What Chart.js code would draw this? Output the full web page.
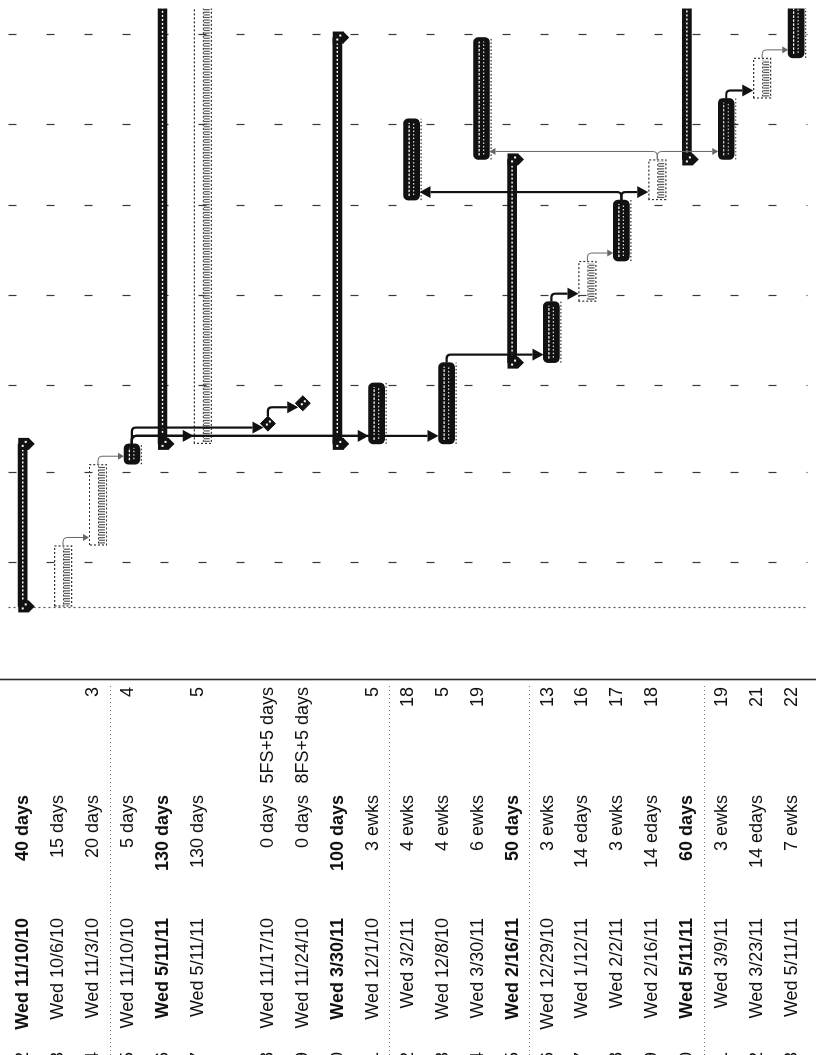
<!DOCTYPE html>
<html>
<head>
<meta charset="utf-8">
<script src="https://cdn.jsdelivr.net/npm/chart.js@4.4.1/dist/chart.umd.min.js"></script>
<style>
  html, body { margin: 0; padding: 0; background: #fff; width: 816px; height: 1055px; overflow: hidden; }
  /* The sheet is laid out in landscape and turned a quarter turn onto the portrait page */
  #sheet { position: absolute; left: 0; top: 0; width: 1055px; height: 816px;
           transform-origin: 0 0; transform: translate(0, 1055px) rotate(-90deg); background: #fff; }
  canvas { display: block; }
</style>
</head>
<body>
<div id="sheet"><canvas id="gantt" width="1055" height="816"></canvas></div>
<script>
// ---- Task table, one entry per row (row 6 is an empty spacer row) ----
const taskIds = [2, 3, 4, 5, 6, 7, null, 8, 9, 10, 11, 12, 13, 14, 15, 16, 17, 18, 19, 20, 21, 22, 23];
const taskKinds = ['summary', 'outline', 'outline', 'task', 'summary', 'outline', 'blank',
  'milestone', 'milestone', 'summary', 'task', 'task', 'task', 'task', 'summary',
  'task', 'outline', 'task', 'outline', 'summary', 'task', 'outline', 'task'];
const startDates = ['9/16/10', '9/16/10', '10/7/10', '11/4/10', '11/11/10', '11/11/10', '',
  '11/17/10', '11/24/10', '11/11/10', '11/11/10', '2/3/11', '11/11/10', '2/17/11', '12/9/10',
  '12/9/10', '12/30/10', '1/13/11', '2/3/11', '2/17/11', '2/17/11', '3/10/11', '3/24/11'];
const finishLabels = ['Wed 11/10/10', 'Wed 10/6/10', 'Wed 11/3/10', 'Wed 11/10/10', 'Wed 5/11/11',
  'Wed 5/11/11', '', 'Wed 11/17/10', 'Wed 11/24/10', 'Wed 3/30/11', 'Wed 12/1/10', 'Wed 3/2/11',
  'Wed 12/8/10', 'Wed 3/30/11', 'Wed 2/16/11', 'Wed 12/29/10', 'Wed 1/12/11', 'Wed 2/2/11',
  'Wed 2/16/11', 'Wed 5/11/11', 'Wed 3/9/11', 'Wed 3/23/11', 'Wed 5/11/11'];
const durations = ['40 days', '15 days', '20 days', '5 days', '130 days', '130 days', '',
  '0 days', '0 days', '100 days', '3 ewks', '4 ewks', '4 ewks', '6 ewks', '50 days',
  '3 ewks', '14 edays', '3 ewks', '14 edays', '60 days', '3 ewks', '14 edays', '7 ewks'];
const predecessors = ['', '', '3', '4', '', '5', '', '5FS+5 days', '8FS+5 days', '', '5', '18',
  '5', '19', '', '13', '16', '17', '18', '', '19', '21', '22'];

// ---- Timescale ----
const viewStart = '8/22/10';
const viewEnd = '4/10/11';
const projectStart = '9/16/10';
const monthLines = ['10/1/10', '11/1/10', '12/1/10', '1/1/11', '2/1/11', '3/1/11', '4/1/11'];

// ---- Layout constants ----
const SHEET_H = 816, TABLE_W = 376;
const ROW_TOP = 14, ROW_PX = 35.7;
const FONT = '"Liberation Sans", Arial, sans-serif';
const COL_FINISH_R = 137, COL_DUR_R = 260, COL_PRED_R = 368, COL_ID_R = 3;
const KIND_SHIFT = { summary: 0.5, task: 5, outline: 6, milestone: 1 };
const KIND_THICK = { summary: 9, task: 16, outline: 18, milestone: 15 };

// m/d/yy (optionally prefixed by a weekday) -> day number
function dayOf(label) {
  const [m, d, y] = label.replace(/^[A-Za-z]+\s+/, '').split('/').map(Number);
  return Date.UTC(2000 + y, m - 1, d) / 86400000;
}
const rowPos = (i, kind) => i + KIND_SHIFT[kind] / ROW_PX;

const rows = taskKinds.map((k, i) => i);
function barsOf(kind) {
  return rows.filter(i => taskKinds[i] === kind).map(i => ({
    x: [dayOf(startDates[i]), dayOf(finishLabels[i]) + 1],
    y: rowPos(i, kind)
  }));
}
const milestonePoints = rows.filter(i => taskKinds[i] === 'milestone')
  .map(i => ({ x: dayOf(finishLabels[i]) + 1, y: rowPos(i, 'milestone') }));

const idToRow = {};
taskIds.forEach((id, i) => { if (id !== null) idToRow[id] = i; });
const links = [];
predecessors.forEach((p, i) => {
  const m = /^(\d+)/.exec(p);
  if (m) links.push({ from: idToRow[+m[1]], to: i });
});

function rowGeom(i, x, y) {
  const kind = taskKinds[i];
  const s = x.getPixelForValue(kind === 'milestone' ? dayOf(finishLabels[i]) + 1 : dayOf(startDates[i]));
  const e = x.getPixelForValue(dayOf(finishLabels[i]) + 1);
  const yc = y.getPixelForValue(rowPos(i, kind));
  const half = KIND_THICK[kind] / 2;
  return { kind, s, e, yc, top: yc - half, bottom: yc + half };
}

function dashedLine(ctx, x1, y1, x2, y2, dash, width, color) {
  ctx.save();
  ctx.setLineDash(dash);
  ctx.lineWidth = width;
  ctx.strokeStyle = color;
  ctx.beginPath();
  ctx.moveTo(x1, y1);
  ctx.lineTo(x2, y2);
  ctx.stroke();
  ctx.restore();
}

const ganttDecor = {
  id: 'ganttDecor',
  beforeDatasetsDraw(chart) {
    const { ctx, chartArea: a, scales: { x, y } } = chart;
    ctx.save();
    // month gridlines
    monthLines.forEach(m => {
      const px = Math.round(x.getPixelForValue(dayOf(m))) + 0.5;
      dashedLine(ctx, px, a.top, px, a.bottom, [8, 30], 1.2, '#3a3a3a');
    });
    // project start line
    const ps = Math.round(x.getPixelForValue(dayOf(projectStart))) - 1.5;
    dashedLine(ctx, ps, a.top, ps, a.bottom, [2, 3], 1.2, '#555');

    // table / chart divider
    dashedLine(ctx, TABLE_W - 0.5, 0, TABLE_W - 0.5, SHEET_H, [], 1.6, '#2a2a2a');
    // faint row separators in the table
    [2, 10, 14, 19].forEach(r => {
      const py = Math.round((y.getPixelForValue(r) + y.getPixelForValue(r + 1)) / 2) + 0.5;
      dashedLine(ctx, 0, py, TABLE_W - 4, py, [1, 3], 1, '#777');
    });

    // table text
    ctx.fillStyle = '#111';
    ctx.textBaseline = 'middle';
    ctx.textAlign = 'right';
    rows.forEach(i => {
      const kind = taskKinds[i];
      if (kind === 'blank') return;
      const cy = y.getPixelForValue(i) + 1;
      const bold = kind === 'summary';
      ctx.font = (bold ? 'bold ' : '') + '18px ' + FONT;
      ctx.fillText(finishLabels[i], COL_FINISH_R, cy);
      ctx.fillText(durations[i], COL_DUR_R, cy);
      ctx.font = '18px ' + FONT;
      if (predecessors[i]) ctx.fillText(predecessors[i], COL_PRED_R, cy);
      ctx.fillText(String(taskIds[i]), COL_ID_R, cy);
    });
    ctx.restore();
  },
  afterDatasetsDraw(chart) {
    const { ctx, chartArea: a, scales: { x, y } } = chart;
    ctx.save();
    ctx.beginPath();
    ctx.rect(a.left, a.top, a.right - a.left, a.bottom - a.top);
    ctx.clip();

    rows.forEach(i => {
      const kind = taskKinds[i];
      if (kind === 'blank') return;
      const g = rowGeom(i, x, y);
      if (kind === 'summary') {
        dashedLine(ctx, g.s + 3, g.yc, g.e - 3, g.yc, [2, 2], 1.4, '#fff');
        [g.s, g.e].forEach(cx => {
          ctx.fillStyle = '#111';
          ctx.beginPath();
          ctx.moveTo(cx - 6, g.top);
          ctx.lineTo(cx + 6, g.top);
          ctx.lineTo(cx + 6, g.yc + 6);
          ctx.lineTo(cx, g.yc + 12);
          ctx.lineTo(cx - 6, g.yc + 6);
          ctx.closePath();
          ctx.fill();
          ctx.fillStyle = '#fff';
          ctx.fillRect(cx - 3, g.yc - 1, 2, 2);
          ctx.fillRect(cx + 1, g.yc + 2, 2, 2);
        });
      } else if (kind === 'task') {
        dashedLine(ctx, g.s + 4, g.yc - 2.5, g.e - 4, g.yc - 2.5, [2.5, 1.5], 1.2, '#fff');
        dashedLine(ctx, g.s + 5, g.yc + 2, g.e - 4, g.yc + 2, [1.5, 2], 1.2, '#ddd');
        // baseline beneath the bar
        dashedLine(ctx, g.s, g.bottom + 1.5, g.e, g.bottom + 1.5, [1.5, 2], 1.2, '#333');
      } else if (kind === 'outline') {
        ctx.save();
        ctx.setLineDash([2, 2]);
        ctx.lineWidth = 1.2;
        ctx.strokeStyle = '#333';
        ctx.beginPath();
        ctx.rect(g.s + 0.5, g.top + 0.5, g.e - g.s - 1, g.bottom - g.top - 1);
        ctx.stroke();
        ctx.restore();
        // hatched inner strip
        dashedLine(ctx, g.s + 2, g.yc + 4, g.e - 2, g.yc + 4, [1.2, 1.4], 6, '#555');
        dashedLine(ctx, g.s + 2, g.yc + 0.5, g.e - 2, g.yc + 0.5, [2, 2], 1, '#333');
      } else if (kind === 'milestone') {
        ctx.fillStyle = '#fff';
        ctx.fillRect(g.s - 2, g.yc - 2, 2, 2);
        ctx.fillRect(g.s + 1, g.yc + 1, 2, 2);
      }
    });

    // dependency links (finish-to-start)
    links.forEach(({ from, to }) => {
      const p = rowGeom(from, x, y);
      const s = rowGeom(to, x, y);
      const faint = p.kind === 'outline';
      const x0 = p.kind === 'milestone' ? p.e + 7.5 : p.e;
      const y0 = p.yc;
      let xt = s.kind === 'milestone' ? s.s - 4 : s.s + 7;
      if (xt < x0 + 8) xt = x0 + 8;
      const dir = s.yc > p.yc ? 1 : -1;
      let yTip = dir > 0 ? s.top : s.bottom;
      if (s.kind === 'milestone') yTip += dir * 3;
      const len = faint ? 6 : 11, hw = faint ? 3.5 : 6, r = 4;
      ctx.save();
      ctx.strokeStyle = faint ? '#666' : '#111';
      ctx.fillStyle = faint ? '#666' : '#111';
      ctx.lineWidth = faint ? 1 : 2.2;
      ctx.beginPath();
      ctx.moveTo(x0, y0);
      ctx.lineTo(xt - r, y0);
      ctx.quadraticCurveTo(xt, y0, xt, y0 + dir * r);
      ctx.lineTo(xt, yTip - dir * len);
      ctx.stroke();
      ctx.beginPath();
      ctx.moveTo(xt, yTip);
      ctx.lineTo(xt - hw, yTip - dir * len);
      ctx.lineTo(xt + hw, yTip - dir * len);
      ctx.closePath();
      ctx.fill();
      ctx.restore();
    });
    ctx.restore();
  }
};

const barCommon = { type: 'bar', indexAxis: 'y', grouped: false, xAxisID: 'x', yAxisID: 'y', borderWidth: 0, borderSkipped: false };

new Chart(document.getElementById('gantt'), {
  type: 'bar',
  data: {
    datasets: [
      Object.assign({}, barCommon, { label: 'Summary', data: barsOf('summary'), backgroundColor: '#111', barThickness: KIND_THICK.summary, borderRadius: 0 }),
      Object.assign({}, barCommon, { label: 'Task', data: barsOf('task'), backgroundColor: '#111', barThickness: KIND_THICK.task, borderRadius: 5 }),
      Object.assign({}, barCommon, { label: 'Elapsed task', data: barsOf('outline'), backgroundColor: 'rgba(255,255,255,0)', barThickness: KIND_THICK.outline, borderRadius: 0 }),
      { type: 'scatter', label: 'Milestone', data: milestonePoints, xAxisID: 'x', yAxisID: 'y',
        pointStyle: 'rectRot', pointRadius: 7.5, backgroundColor: '#111', borderColor: '#111', borderWidth: 1 }
    ]
  },
  options: {
    indexAxis: 'y',
    responsive: false,
    animation: false,
    devicePixelRatio: 1,
    layout: { padding: { left: TABLE_W, right: 0, top: 0, bottom: 0 } },
    plugins: { legend: { display: false }, tooltip: { enabled: false } },
    scales: {
      x: { type: 'linear', min: dayOf(viewStart), max: dayOf(viewEnd), offset: false, display: false },
      y: { type: 'linear', min: -ROW_TOP / ROW_PX, max: -ROW_TOP / ROW_PX + SHEET_H / ROW_PX,
           offset: false, reverse: true, display: false }
    }
  },
  plugins: [ganttDecor]
});
</script>
</body>
</html>
